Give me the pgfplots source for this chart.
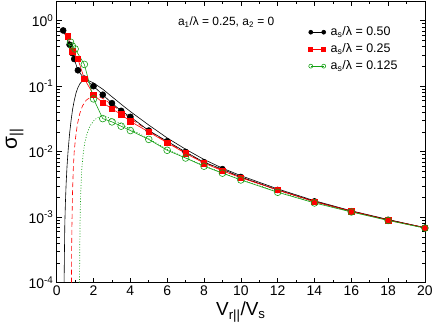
\documentclass[border=0pt]{standalone}
\usepackage{pgfplots}
\pgfplotsset{compat=1.18}
\usepackage{fontspec}
\setmainfont{Liberation Sans}
\definecolor{mygreen}{RGB}{20,160,20}
\begin{document}
\begin{tikzpicture}
\begin{axis}[
  at={(0pt,0pt)}, anchor=south west,
  scale only axis, width=370pt, height=283pt,
  xmin=0, xmax=20, ymin=1e-4, ymax=2,
  ymode=log,
  xtick={0,2,...,20}, minor x tick num=1,
  ytick={1e-4,1e-3,1e-2,1e-1,1},
  yticklabels={10\textsuperscript{-4},10\textsuperscript{-3},10\textsuperscript{-2},10\textsuperscript{-1},10\textsuperscript{0}},
  /pgf/number format/assume math mode=true,
  tick align=inside,
  major tick length=5pt, minor tick length=3pt,
  axis line style={line width=0.8pt},
  every tick/.style={black, line width=0.6pt},
  tick label style={font=\fontsize{14}{16}\selectfont},
  xlabel={V\textsubscript{r||}/V\textsubscript{s}},
  ylabel={σ\textsubscript{||}},
  xlabel style={font=\fontsize{19}{21}\selectfont, at={(axis description cs:0.5,0)}, anchor=base, yshift=-33pt, inner sep=0pt},
  ylabel style={font=\fontsize{21}{23}\selectfont, at={(axis description cs:-0.108,0.51)}, anchor=base, inner sep=0pt},
  legend style={at={(axis description cs:0.684,0.912)}, anchor=north west, draw=none, fill=none,
    font=\fontsize{12.5}{14}\selectfont, row sep=4.5pt, inner sep=0pt,
    nodes={inner xsep=5pt, inner ysep=1pt}},
  legend cell align=left,
  legend image code/.code={\draw[mark repeat=2,mark phase=1,#1,mark size=2pt] plot coordinates {(0pt,0pt) (6.5pt,0pt) (13pt,0pt)};},
  clip=true,
]
% theory curves
\addplot[black, line width=0.6pt, forget plot] coordinates {
(0.40,1e-4)(0.42,3e-4)(0.44,8e-4)(0.47,1.6e-3)(0.51,3.2e-3)(0.56,6e-3)(0.62,1.05e-2)(0.70,1.9e-2)
(0.78,3e-2)(0.86,4.4e-2)(0.95,6e-2)(1.05,7.9e-2)(1.15,9.5e-2)(1.25,0.108)(1.38,0.120)(1.5,0.125)
(1.65,0.124)(1.8,0.119)(2.0,0.112)(2.5,0.090)(3.0,0.069)(3.5,0.053)(4.0,0.041)(5.0,0.0255)
(6.0,0.0162)(7.0,0.0109)(8.0,0.0076)(9.0,0.0056)(10.0,0.0043)(12.0,0.0027)(14.0,0.00178)
(16.0,0.00125)(18.0,0.00092)(20.0,0.00069)};
\addplot[red, line width=0.6pt, dash pattern=on 5pt off 3pt, forget plot] coordinates {
(0.80,1e-4)(0.81,3e-4)(0.83,9e-4)(0.86,2.5e-3)(0.90,5.5e-3)(0.95,1e-2)(1.02,1.6e-2)(1.12,2.6e-2)
(1.25,3.8e-2)(1.4,5e-2)(1.6,6.1e-2)(1.8,6.7e-2)(2.0,0.070)(2.3,0.069)(2.6,0.063)(3.0,0.052)
(3.5,0.041)(4.0,0.032)(5.0,0.0208)(6.0,0.0140)(7.0,0.0096)(8.0,0.0069)(9.0,0.0052)(10.0,0.0041)
(12.0,0.0026)(14.0,0.00174)(16.0,0.00124)(18.0,0.00091)(20.0,0.00069)};
\addplot[mygreen, line width=0.7pt, dash pattern=on 0.9pt off 1.8pt, forget plot] coordinates {
(1.24,1e-4)(1.25,3e-4)(1.27,9e-4)(1.30,2.2e-3)(1.35,4.8e-3)(1.42,8.5e-3)(1.52,1.35e-2)(1.65,1.9e-2)
(1.8,2.45e-2)(2.0,2.95e-2)(2.2,3.3e-2)(2.45,3.5e-2)(2.7,3.4e-2)(3.0,3.15e-2)(3.5,2.65e-2)(4.0,2.2e-2)
(5.0,1.58e-2)(6.0,1.08e-2)(7.0,8.1e-3)(8.0,6.1e-3)(9.0,4.75e-3)(10.0,3.75e-3)(12.0,2.45e-3)
(14.0,1.67e-3)(16.0,1.21e-3)(18.0,9e-4)(20.0,6.8e-4)};
% data
\addplot[black, line width=0.6pt, mark=*, mark size=3pt, mark options={fill=black}] coordinates {
(0.35,0.71)(0.7,0.43)(0.85,0.32)(0.95,0.26)(1.15,0.175)(1.5,0.13)(2,0.10)(2.5,0.074)(3,0.055)
(3.5,0.042)(4,0.034)(5,0.021)(6,0.0144)(7,0.0099)(8,0.0069)(9,0.0054)(10,0.0041)(12,0.0026)
(14,0.00174)(16,0.00123)(18,0.00091)(20,0.00069)};
\addlegendentry{a\textsubscript{s}/λ = 0.50}
\addplot[red, line width=0.6pt, mark=square*, mark size=2.8pt, mark options={fill=red, draw=red}] coordinates {
(0.6,0.58)(0.85,0.34)(1.15,0.26)(1.5,0.13)(2,0.074)(2.5,0.056)(3,0.045)(3.5,0.037)(4,0.029)
(5,0.020)(6,0.0137)(7,0.0094)(8,0.0067)(9,0.0051)(10,0.0040)(12,0.0026)(14,0.00172)(16,0.00123)
(18,0.0009)(20,0.00069)};
\addlegendentry{a\textsubscript{s}/λ = 0.25}
\addplot[mygreen, line width=0.6pt, mark=o, mark size=3.4pt, mark options={draw=mygreen, line width=0.6pt, fill=white}] coordinates {
(0.75,0.47)(0.85,0.41)(1.0,0.37)(1.5,0.215)(2,0.064)(2.5,0.032)(3,0.0285)(3.5,0.0245)(4,0.021)
(5,0.0154)(6,0.0105)(7,0.0080)(8,0.0060)(9,0.0047)(10,0.0037)(12,0.0024)(14,0.00165)(16,0.0012)
(18,0.00089)(20,0.00068)};
\addlegendentry{a\textsubscript{s}/λ = 0.125}
\node[font=\fontsize{12}{14}\selectfont, anchor=center] at (axis description cs:0.46,0.925)
  {a\textsubscript{1}/λ = 0.25, a\textsubscript{2} = 0};
\end{axis}
\path (-57pt,-48pt) rectangle (379pt,284pt);
\end{tikzpicture}
\end{document}
